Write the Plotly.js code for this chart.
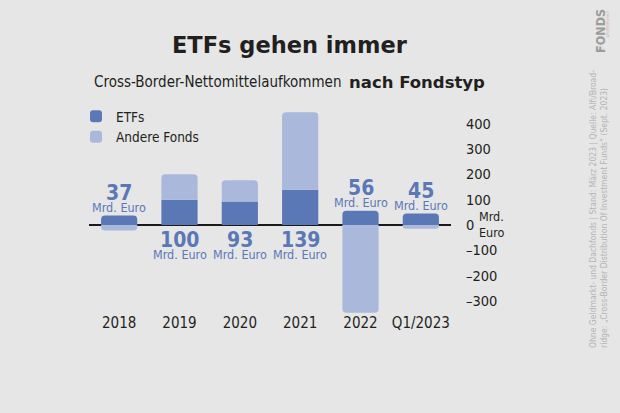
<!DOCTYPE html>
<html>
<head>
<meta charset="utf-8">
<script src="https://cdn.plot.ly/plotly-3.0.1.min.js"></script>
<style>
html,body{margin:0;padding:0;background:#e6e6e6;}
#chart{width:620px;height:413px;}
text, tspan{font-stretch:condensed;}
text[style*="WideFace"], text[style*="WideFace"] tspan{font-stretch:normal !important;}
</style>
</head>
<body>
<div id="chart"></div>
<script>
// ---- data ----
var categories = ["2018", "2019", "2020", "2021", "2022", "Q1/2023"];
var etfValues = [37, 100, 93, 139, 56, 45];
var otherValues = [-22, 100, 84, 306, -347, -15];
var seriesNames = ["ETFs", "Andere Fonds"];
var yTickVals = [-300, -200, -100, 0, 100, 200, 300, 400];
var yTickText = ["\u2013300", "\u2013200", "\u2013100", "0", "100", "200", "300", "400"];
var unitText = "Mrd. Euro";
var titleText = "ETFs gehen immer";
var subtitleLeft = "Cross-Border-Nettomittelaufkommen";
var subtitleRight = "nach Fondstyp";
var sourceLines = ["Ohne Geldmarkt- und Dachfonds | Stand: M\u00e4rz 2023 | Quelle: Alfi/Broad-",
                   "ridge: \u201eCross-Border Distribution Of Investment Funds\u201c (Sept. 2023)"];
var logoText = "FONDS";
var logoSub = "professionell";

// ---- style ----
var W = 620, H = 413;
var M = {l: 89, r: 169, t: 110, b: 98};
var COND = "DejaVu Sans, sans-serif";
var WIDE = "DejaVu Sans, WideFace, sans-serif";
var etfColor = "#5b78b6";
var otherColor = "#aab8dc";
var textColor = "#231f20";
var labelColor = "#5b78b6";

var plotW = W - M.l - M.r, plotH = H - M.t - M.b;
function px(x) { return (x - M.l) / plotW; }
function py(y) { return (H - M.b - y) / plotH; }

var traces = [
  {type: "bar", name: seriesNames[0], x: categories, y: etfValues,
   marker: {color: etfColor, cornerradius: 4}, width: 0.6, hoverinfo: "skip"},
  {type: "bar", name: seriesNames[1], x: categories, y: otherValues,
   marker: {color: otherColor, cornerradius: 4}, width: 0.6, hoverinfo: "skip"}
];

var annotations = [];
// value labels (x given as category index)
for (var i = 0; i < categories.length; i++) {
  var below = otherValues[i] > 0;
  var base = below ? 0 : etfValues[i];
  annotations.push({x: i, y: base, xref: "x", yref: "y",
    text: "<b>" + etfValues[i] + "</b>", showarrow: false, yanchor: "middle",
    yshift: below ? -15 : 23,
    font: {family: COND, size: 21, color: labelColor}});
  annotations.push({x: i, y: base, xref: "x", yref: "y",
    text: unitText, showarrow: false, yanchor: "middle",
    yshift: below ? -30 : 8,
    font: {family: COND, size: 12.5, color: labelColor}});
}
// unit next to zero tick
annotations.push({x: px(477), y: 0, xref: "paper", yref: "y", xanchor: "left", yanchor: "middle",
  text: "Mrd.<br>Euro", align: "left", showarrow: false,
  font: {family: COND, size: 12.5, color: textColor}});
// title + subtitle
annotations.push({x: px(290), y: py(45), xref: "paper", yref: "paper", xanchor: "center", yanchor: "middle",
  text: "<b>" + titleText + "</b>", showarrow: false,
  font: {family: WIDE, size: 22.5, color: textColor}});
annotations.push({x: px(343), y: py(82), xref: "paper", yref: "paper", xanchor: "right", yanchor: "middle",
  text: subtitleLeft, showarrow: false,
  font: {family: COND, size: 15, color: textColor}});
annotations.push({x: px(347), y: py(82), xref: "paper", yref: "paper", xanchor: "left", yanchor: "middle",
  text: "<b>" + subtitleRight + "</b>", showarrow: false,
  font: {family: WIDE, size: 16.5, color: textColor}});
// source (rotated)
annotations.push({x: px(598), y: py(350), xref: "paper", yref: "paper", xanchor: "center", yanchor: "bottom",
  text: sourceLines.join("<br>"), align: "left", textangle: -90, showarrow: false,
  font: {family: COND, size: 8.5, color: "#b3b3b3"}});
// logo
annotations.push({x: px(600), y: py(31), xref: "paper", yref: "paper", xanchor: "center", yanchor: "middle",
  text: "<b>" + logoText + "</b>", textangle: -90, showarrow: false,
  font: {family: COND, size: 12.5, color: "#9c9c9c"}});
annotations.push({x: px(607), y: py(24), xref: "paper", yref: "paper", xanchor: "center", yanchor: "middle",
  text: "<i>" + logoSub + "</i>", textangle: -90, showarrow: false,
  font: {family: COND, size: 4.5, color: "#d8a8a8"}});

var layout = {
  width: W, height: H,
  margin: M,
  paper_bgcolor: "#e6e6e6", plot_bgcolor: "#e6e6e6",
  barmode: "relative",
  bargap: 0.4,
  showlegend: true,
  legend: {x: px(76), y: py(101), xanchor: "left", yanchor: "top", traceorder: "normal",
    bgcolor: "rgba(0,0,0,0)", font: {family: COND, size: 13.5, color: textColor},
    tracegroupgap: 0, itemwidth: 30},
  xaxis: {type: "category", range: [-0.5, 5.5], showgrid: false, zeroline: false, showline: false,
    ticks: "", ticklabelstandoff: -3, tickfont: {family: COND, size: 15, color: textColor}, fixedrange: true},
  yaxis: {range: [-355.7, 454.3], side: "right", showgrid: false, zeroline: true,
    zerolinecolor: "#1a1a1a", zerolinewidth: 1.5, showline: false, ticks: "",
    tickvals: yTickVals, ticktext: yTickText, ticklabelstandoff: 14,
    tickfont: {family: COND, size: 14.5, color: textColor}, fixedrange: true},
  annotations: annotations
};

Plotly.newPlot("chart", traces, layout, {displayModeBar: false, staticPlot: true});
</script>
</body>
</html>
